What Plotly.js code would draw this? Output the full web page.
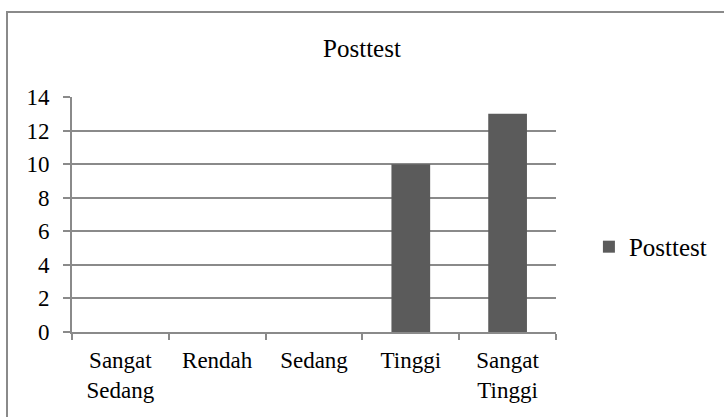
<!DOCTYPE html>
<html>
<head>
<meta charset="utf-8">
<script src="https://cdn.plot.ly/plotly-3.0.1.min.js"></script>
<style>
  html, body { margin: 0; padding: 0; background: #fff; overflow: hidden; }
  #wrap { position: relative; width: 724px; height: 417px; overflow: hidden; }
  #chart { position: absolute; left: 0; top: 0; width: 724px; height: 417px; }
  #frame { position: absolute; left: 6px; top: 11px; width: 800px; height: 500px;
           border: 2px solid #8a8a8a; pointer-events: none; }
</style>
</head>
<body>
<div id="wrap">
  <div id="chart"></div>
  <div id="frame"></div>
</div>
<script>
const categories = ["Sangat<br>Sedang", "Rendah", "Sedang", "Tinggi", "Sangat<br>Tinggi"];
const posttestValues = [0, 0, 0, 10, 13];
const seriesName = "Posttest";
const chartTitle = "Posttest";
const yTicks = [0, 2, 4, 6, 8, 10, 12, 14];

const fam = "'Liberation Serif', 'DejaVu Serif', serif";
const font = { family: fam, size: 23, color: "#000" };
const bigFont = { family: fam, size: 25, color: "#000" };

const data = [{
  type: "bar",
  x: categories,
  y: posttestValues,
  name: seriesName,
  marker: { color: "#5b5b5b", line: { width: 0 } },
  showlegend: true
}];

const layout = {
  width: 724,
  height: 417,
  margin: { l: 72, r: 168, t: 97, b: 85 },
  paper_bgcolor: "#fff",
  plot_bgcolor: "#fff",
  font: font,
  bargap: 0.6,
  title: {
    text: chartTitle,
    font: bigFont,
    x: 0.5, xref: "container", xanchor: "center",
    y: 0.885, yref: "container", yanchor: "middle"
  },
  xaxis: {
    type: "category",
    tickson: "boundaries",
    ticks: "outside",
    ticklen: 6,
    tickwidth: 2,
    tickcolor: "#8a8a8a",
    showline: true,
    linecolor: "#8a8a8a",
    linewidth: 2,
    showgrid: false,
    zeroline: false,
    tickfont: font,
    ticklabelstandoff: 6,
    fixedrange: true
  },
  yaxis: {
    range: [0, 14],
    tickvals: yTicks,
    ticks: "outside",
    ticklen: 7,
    tickwidth: 2,
    tickcolor: "#8a8a8a",
    showline: true,
    linecolor: "#8a8a8a",
    linewidth: 2,
    showgrid: true,
    gridcolor: "#8a8a8a",
    gridwidth: 2,
    zeroline: false,
    tickfont: font,
    ticklabelstandoff: 9,
    fixedrange: true
  },
  legend: {
    x: 1.068, xanchor: "left",
    y: 0.362, yanchor: "middle",
    font: bigFont,
    bgcolor: "rgba(0,0,0,0)",
    itemwidth: 30
  },
  showlegend: true
};

Plotly.newPlot("chart", data, layout, { displayModeBar: false, staticPlot: true });
</script>
</body>
</html>
